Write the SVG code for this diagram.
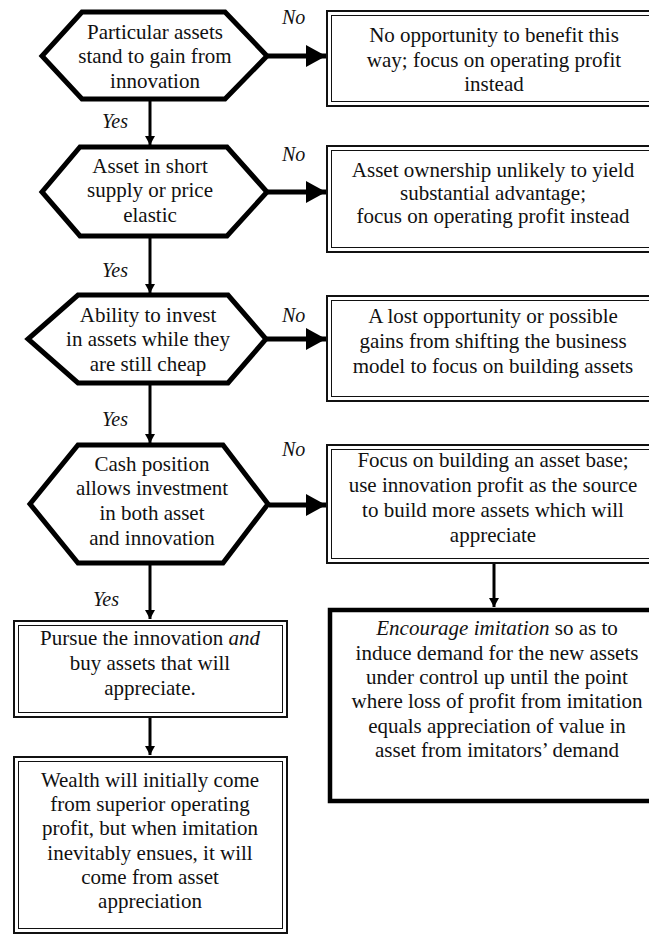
<svg xmlns="http://www.w3.org/2000/svg" width="649" height="936" viewBox="0 0 649 936">
<style>
text{font-family:"Liberation Serif","Times New Roman",serif;font-size:21px;fill:#111;text-anchor:middle}
.lab{font-size:20px;font-style:italic;text-anchor:start}
.hex{fill:#fff;stroke:#000;stroke-width:5;stroke-linejoin:miter}
.o{fill:#fff;stroke:#111;stroke-width:2}
.i{fill:none;stroke:#111;stroke-width:1}
.thick{fill:#fff;stroke:#000;stroke-width:4.5}
.c{stroke:#000;fill:none}
.big{stroke-width:5}
.thin{stroke-width:3}
</style>
<defs>
<marker id="ah" markerUnits="userSpaceOnUse" markerWidth="20" markerHeight="22" refX="20" refY="11" orient="auto"><path d="M0,0 L20,11 L0,22 Z" fill="#000"/></marker>
<marker id="as" markerUnits="userSpaceOnUse" markerWidth="10" markerHeight="10" refX="9" refY="5" orient="auto"><path d="M0,0 L9,5 L0,10 Z" fill="#000"/></marker>
</defs>
<rect width="649" height="936" fill="#fff"/>
<g id="connectors">
<line class="c big" x1="268" y1="56" x2="326" y2="56" marker-end="url(#ah)"/>
<line class="c big" x1="268" y1="192" x2="326" y2="192" marker-end="url(#ah)"/>
<line class="c big" x1="267" y1="339" x2="326" y2="339" marker-end="url(#ah)"/>
<line class="c big" x1="269" y1="505" x2="326" y2="505" marker-end="url(#ah)"/>
<line class="c thin" x1="150" y1="100" x2="150" y2="145" marker-end="url(#as)"/>
<line class="c thin" x1="150" y1="237" x2="150" y2="293" marker-end="url(#as)"/>
<line class="c thin" x1="150" y1="384" x2="150" y2="443" marker-end="url(#as)"/>
<line class="c thin" x1="150" y1="564" x2="150" y2="619" marker-end="url(#as)"/>
<line class="c thin" x1="150" y1="718" x2="150" y2="755" marker-end="url(#as)"/>
<line class="c thin" x1="494" y1="564" x2="494" y2="607" marker-end="url(#as)"/>
<text class="lab" x="282" y="24">No</text>
<text class="lab" x="282" y="161">No</text>
<text class="lab" x="282" y="322">No</text>
<text class="lab" x="282" y="456">No</text>
<text class="lab" x="102" y="128">Yes</text>
<text class="lab" x="102" y="277">Yes</text>
<text class="lab" x="102" y="426">Yes</text>
<text class="lab" x="93" y="606">Yes</text>
</g>
<g id="q1">
<polygon class="hex" points="82,12 225,12 267,56 225,99 82,99 42,56"/>
<text x="155" y="39">Particular assets</text>
<text x="155" y="63">stand to gain from</text>
<text x="155" y="88">innovation</text>
</g>
<g id="q2">
<polygon class="hex" points="80,147 227,147 267,192 227,236 80,236 42,192"/>
<text x="150" y="173">Asset in short</text>
<text x="150" y="197">supply or price</text>
<text x="150" y="222">elastic</text>
</g>
<g id="q3">
<polygon class="hex" points="78,295 228,295 266,339 228,383 78,383 28,339"/>
<text x="148" y="322">Ability to invest</text>
<text x="148" y="346">in assets while they</text>
<text x="148" y="371">are still cheap</text>
</g>
<g id="q4">
<polygon class="hex" points="78,445 223,445 268,504 223,563 78,563 30,504"/>
<text x="152" y="471">Cash position</text>
<text x="152" y="495">allows investment</text>
<text x="152" y="520">in both asset</text>
<text x="152" y="545">and innovation</text>
</g>
<g id="n1">
<rect class="o" x="327" y="11" width="330" height="95"/>
<rect class="i" x="331.5" y="15.5" width="330" height="86"/>
<text x="494" y="42">No opportunity to benefit this</text>
<text x="494" y="67">way; focus on operating profit</text>
<text x="494" y="91">instead</text>
</g>
<g id="n2">
<rect class="o" x="327" y="146" width="330" height="106"/>
<rect class="i" x="331.5" y="150.5" width="330" height="97"/>
<text x="493" y="177">Asset ownership unlikely to yield</text>
<text x="493" y="200">substantial advantage;</text>
<text x="493" y="223">focus on operating profit instead</text>
</g>
<g id="n3">
<rect class="o" x="327" y="296" width="330" height="105"/>
<rect class="i" x="331.5" y="300.5" width="330" height="96"/>
<text x="493" y="323">A lost opportunity or possible</text>
<text x="493" y="348">gains from shifting the business</text>
<text x="493" y="373">model to focus on building assets</text>
</g>
<g id="n4">
<rect class="o" x="327" y="445" width="330" height="118"/>
<rect class="i" x="331.5" y="449.5" width="330" height="109"/>
<text x="493" y="467">Focus on building an asset base;</text>
<text x="493" y="492">use innovation profit as the source</text>
<text x="493" y="517">to build more assets which will</text>
<text x="493" y="542">appreciate</text>
</g>
<g id="n5">
<rect class="thick" x="330" y="610" width="330" height="191"/>
<text x="497" y="635"><tspan font-style="italic">Encourage imitation</tspan> so as to</text>
<text x="497" y="660">induce demand for the new assets</text>
<text x="497" y="684">under control up until the point</text>
<text x="497" y="708">where loss of profit from imitation</text>
<text x="497" y="733">equals appreciation of value in</text>
<text x="497" y="757">asset from imitators’ demand</text>
</g>
<g id="y1">
<rect class="o" x="14" y="621" width="273" height="96"/>
<rect class="i" x="18.5" y="625.5" width="264" height="87"/>
<text x="150" y="645">Pursue the innovation <tspan font-style="italic">and</tspan></text>
<text x="150" y="670">buy assets that will</text>
<text x="150" y="695">appreciate.</text>
</g>
<g id="y2">
<rect class="o" x="14" y="757" width="273" height="176"/>
<rect class="i" x="18.5" y="761.5" width="264" height="167"/>
<text x="150" y="787">Wealth will initially come</text>
<text x="150" y="811">from superior operating</text>
<text x="150" y="835">profit, but when imitation</text>
<text x="150" y="860">inevitably ensues, it will</text>
<text x="150" y="884">come from asset</text>
<text x="150" y="908">appreciation</text>
</g>
</svg>
